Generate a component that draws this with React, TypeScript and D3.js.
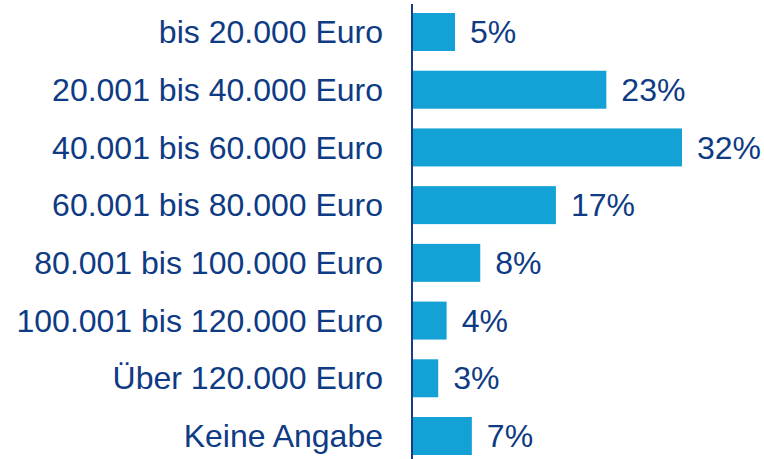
import React from "react";
import * as d3 from "d3";

const categories = [
  "bis 20.000 Euro",
  "20.001 bis 40.000 Euro",
  "40.001 bis 60.000 Euro",
  "60.001 bis 80.000 Euro",
  "80.001 bis 100.000 Euro",
  "100.001 bis 120.000 Euro",
  "Über 120.000 Euro",
  "Keine Angabe",
];
const values = [5, 23, 32, 17, 8, 4, 3, 7];
const valueLabels = ["5%", "23%", "32%", "17%", "8%", "4%", "3%", "7%"];

const W = 764;
const H = 459;
const axisX = 412;

export default function App() {
  const x = d3.scaleLinear().domain([0, 32]).range([axisX + 1, 682]);
  const y = d3
    .scaleBand<string>()
    .domain(categories)
    .range([3.2, 464.8])
    .paddingInner(0.342)
    .paddingOuter(0.17);
  const font = "'Liberation Sans', Arial, sans-serif";
  const textColor = "#0E3B84";
  return (
    <svg
      width={W}
      height={H}
      style={{ position: "absolute", left: 0, top: 0, display: "block", background: "#fff" }}
    >
      {categories.map((c, i) => {
        const yy = y(c)!;
        const bw = y.bandwidth();
        const cy = yy + bw / 2;
        return (
          <g key={c}>
            <rect x={x(0)} y={yy} width={x(values[i]) - x(0)} height={bw} fill="#13A1D6" />
            <text
              x={383}
              y={cy}
              dy="0.35em"
              textAnchor="end"
              fontFamily={font}
              fontSize={32}
              fill={textColor}
            >
              {c}
            </text>
            <text
              x={x(values[i]) + 15}
              y={cy}
              dy="0.35em"
              textAnchor="start"
              fontFamily={font}
              fontSize={32}
              fill={textColor}
            >
              {valueLabels[i]}
            </text>
          </g>
        );
      })}
      <line x1={axisX} x2={axisX} y1={4} y2={H} stroke="#173E84" strokeWidth={2} />
    </svg>
  );
}
